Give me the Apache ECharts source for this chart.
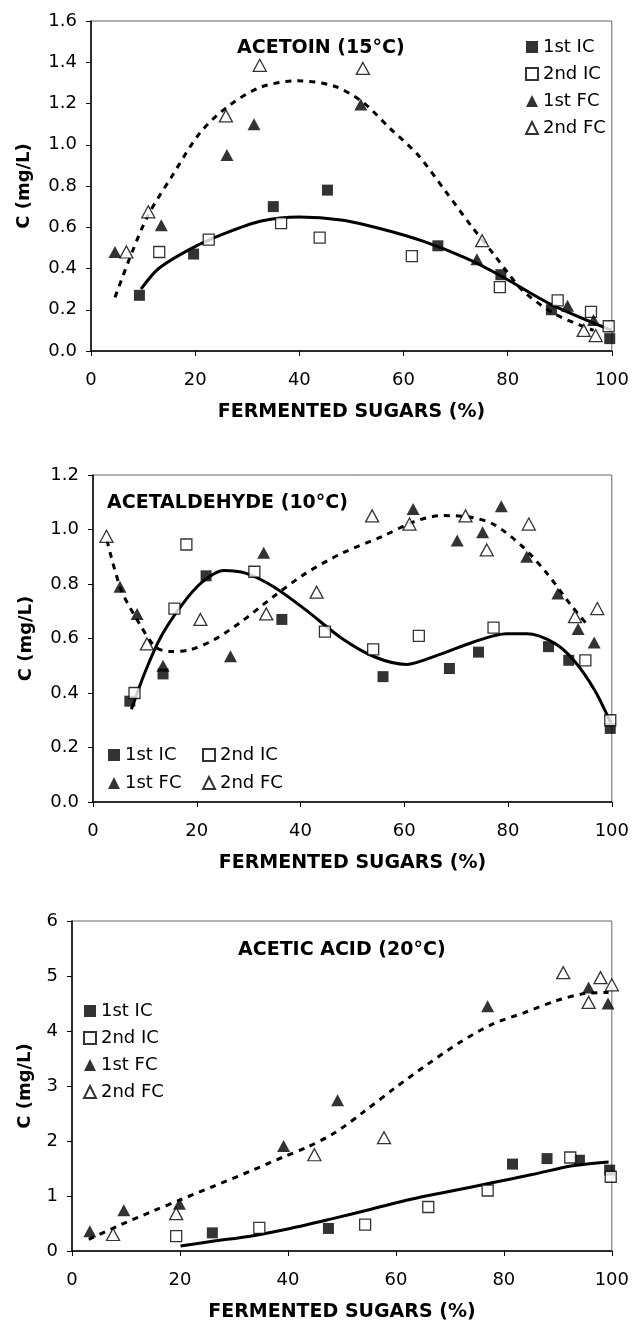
<!DOCTYPE html>
<html>
<head>
<meta charset="utf-8">
<title>Fermented sugars</title>
<script src="https://cdn.jsdelivr.net/npm/echarts@6/dist/echarts.min.js"></script>
<style>
  html, body { margin: 0; padding: 0; background: #fff; }
  #main { width: 632px; height: 1326px; }
</style>
</head>
<body>
<div id="main"></div>
<script>
// legend / series names
var seriesNames = ['1st IC', '2nd IC', '1st FC', '2nd FC'];
var panelTitles = ['ACETOIN (15°C)', 'ACETALDEHYDE (10°C)', 'ACETIC ACID (20°C)'];

// ---- ACETOIN (15 C) ---- points are [fermented sugars %, C mg/L]
var acetoinIC1 = [[9.3,0.27],[19.7,0.47],[35,0.70],[45.4,0.78],[66.6,0.51],[78.7,0.37],[88.4,0.20],[99.6,0.06]];
var acetoinIC2 = [[13.1,0.48],[22.6,0.54],[36.5,0.62],[43.9,0.55],[61.6,0.46],[78.5,0.31],[89.6,0.245],[96,0.19],[99.4,0.12]];
var acetoinFC1 = [[4.6,0.48],[13.5,0.61],[26.1,0.95],[31.3,1.10],[51.8,1.195],[74.1,0.445],[91.5,0.22],[96.5,0.15]];
var acetoinFC2 = [[6.8,0.48],[11,0.675],[25.9,1.14],[32.4,1.385],[52.2,1.37],[75.1,0.535],[94.6,0.10],[96.9,0.075]];
var acetoinICTrend = [[9.6,0.30],[13,0.40],[19.5,0.50],[25.7,0.57],[32.7,0.63],[40,0.65],[48,0.635],[56,0.59],[64,0.53],[72,0.45],[79,0.36],[88,0.23],[100,0.10]];
var acetoinFCTrend = [[4.6,0.26],[7.9,0.48],[11,0.66],[15.6,0.85],[21,1.06],[26.5,1.19],[32.7,1.28],[39.6,1.31],[46.6,1.285],[52,1.21],[57.4,1.08],[62.8,0.95],[68.2,0.77],[72.9,0.61],[77.6,0.46],[80,0.38],[83,0.29],[89,0.18],[96.5,0.10]];

// ---- ACETALDEHYDE (10 C) ----
var acetalIC1 = [[7.1,0.37],[13.5,0.47],[21.8,0.83],[36.4,0.67],[55.9,0.46],[68.7,0.49],[74.3,0.55],[87.8,0.57],[91.7,0.52],[99.7,0.27]];
var acetalIC2 = [[8,0.40],[15.7,0.71],[18,0.945],[31.1,0.845],[44.7,0.625],[54,0.56],[62.8,0.61],[77.2,0.64],[94.9,0.52],[99.7,0.30]];
var acetalFC1 = [[5.2,0.79],[8.5,0.69],[13.5,0.50],[26.5,0.535],[32.9,0.915],[61.7,1.075],[70.2,0.96],[75.1,0.99],[78.7,1.085],[83.6,0.90],[89.6,0.765],[93.5,0.635],[96.6,0.585]];
var acetalFC2 = [[2.6,0.975],[10.4,0.58],[20.7,0.67],[33.4,0.69],[43.1,0.77],[53.8,1.05],[61,1.02],[71.8,1.05],[75.9,0.925],[84,1.02],[92.9,0.68],[97.2,0.71]];
var acetalICTrend = [[7.4,0.34],[10.1,0.48],[13.2,0.61],[17,0.72],[20.9,0.805],[25.2,0.85],[29.4,0.84],[34.8,0.79],[41,0.705],[48,0.60],[54.2,0.533],[60.4,0.505],[66.6,0.54],[73.5,0.588],[79.7,0.617],[83.6,0.617],[89,0.582],[92.9,0.515],[96.7,0.41],[99.8,0.29]];
var acetalFCTrend = [[2.7,0.96],[5.4,0.78],[8.9,0.656],[12,0.57],[14.7,0.552],[18.6,0.558],[23.2,0.594],[28.6,0.662],[34.8,0.754],[41,0.839],[48,0.913],[55.7,0.974],[61.9,1.029],[67.3,1.051],[72.8,1.045],[77.4,1.017],[82.8,0.937],[87.5,0.839],[92.1,0.723],[95.6,0.643]];

// ---- ACETIC ACID (20 C) ----
var aceticIC1 = [[26,0.33],[47.5,0.41],[81.6,1.58],[88,1.68],[94,1.65],[99.6,1.47]];
var aceticIC2 = [[19.3,0.27],[34.7,0.42],[54.3,0.48],[66,0.80],[77,1.10],[92.3,1.70],[99.8,1.35]];
var aceticFC1 = [[3.3,0.36],[9.6,0.74],[19.9,0.86],[39.2,1.91],[49.2,2.74],[77,4.45],[95.7,4.79],[99.3,4.50]];
var aceticFC2 = [[7.6,0.30],[19.3,0.68],[44.9,1.75],[57.8,2.06],[91,5.06],[95.7,4.52],[97.9,4.97],[100,4.84]];
var aceticICTrend = [[20.1,0.09],[26.3,0.18],[33,0.27],[40.4,0.41],[47.9,0.58],[55.4,0.76],[62.8,0.94],[70.3,1.09],[77.8,1.24],[85.2,1.39],[92.7,1.55],[99.4,1.62]];
var aceticFCTrend = [[3.1,0.21],[9.1,0.48],[15.1,0.73],[20.3,0.94],[26.3,1.18],[33,1.45],[38.9,1.70],[43.4,1.88],[48.7,2.15],[53.9,2.52],[59.9,2.97],[65.8,3.39],[71.8,3.79],[77.8,4.12],[83.7,4.33],[89.7,4.55],[94.9,4.68],[99.4,4.70]];

// axis ranges
var xMax = 100, xStep = 20;
var yMaxes = [1.6, 1.2, 6];
var ySteps = [0.2, 0.2, 1];

var FONT = 'DejaVu Sans';

var chart = echarts.init(document.getElementById('main'));

function markerStyle(name) {
  var filled = name.indexOf('1st') === 0;
  var tri = name.indexOf('FC') > 0;
  return {
    symbol: tri ? 'triangle' : 'rect',
    symbolSize: tri ? [13, 12] : [11, 11],
    itemStyle: filled
      ? { color: '#000' }
      : { color: '#fff', borderColor: '#000', borderWidth: 1.3 }
  };
}

function panelSeries(idx, sets, icTrend, fcTrend) {
  var out = [];
  // trend lines first (drawn under markers)
  out.push({
    name: 'IC trend ' + idx, type: 'line', xAxisIndex: idx, yAxisIndex: idx,
    data: icTrend, smooth: 0.3, showSymbol: false, silent: true,
    lineStyle: { color: '#000', width: 3 }, z: 2
  });
  out.push({
    name: 'FC trend ' + idx, type: 'line', xAxisIndex: idx, yAxisIndex: idx,
    data: fcTrend, smooth: 0.3, showSymbol: false, silent: true,
    lineStyle: { color: '#000', width: 3, type: [6, 6] }, z: 2
  });
  for (var i = 0; i < seriesNames.length; i++) {
    var m = markerStyle(seriesNames[i]);
    out.push({
      name: seriesNames[i], type: 'scatter', xAxisIndex: idx, yAxisIndex: idx,
      data: sets[i], symbol: m.symbol, symbolSize: m.symbolSize,
      itemStyle: m.itemStyle, z: 3
    });
  }
  return out;
}

function xAxisFor(idx) {
  return {
    gridIndex: idx, type: 'value', min: 0, max: xMax, interval: xStep,
    name: 'FERMENTED SUGARS (%)', nameLocation: 'middle', nameGap: 52,
    nameTextStyle: { fontFamily: FONT, fontSize: 19, fontWeight: 'bold', color: '#000' },
    axisLine: { onZero: false, lineStyle: { color: '#000', width: 1.5 } },
    axisTick: { inside: false, length: 5, lineStyle: { color: '#000' } },
    axisLabel: { margin: 20, fontFamily: FONT, fontSize: 18, color: '#000' },
    splitLine: { show: false }
  };
}

function yAxisFor(idx, decimals) {
  return {
    gridIndex: idx, type: 'value', min: 0, max: yMaxes[idx], interval: ySteps[idx],
    name: 'C (mg/L)', nameLocation: 'middle', nameGap: decimals ? 58 : 38,
    nameTextStyle: { fontFamily: FONT, fontSize: 18, fontWeight: 'bold', color: '#000' },
    axisLine: { onZero: false, lineStyle: { color: '#000', width: 1.5 } },
    axisTick: { inside: false, length: 5, lineStyle: { color: '#000' } },
    axisLabel: {
      margin: 14, fontFamily: FONT, fontSize: 18, color: '#000',
      formatter: function (v) { return decimals ? v.toFixed(1) : String(v); }
    },
    splitLine: { show: false }
  };
}

var legendText = { fontFamily: FONT, fontSize: 18, color: '#000' };
var titleStyle = { fontFamily: FONT, fontSize: 19, fontWeight: 'bold', color: '#000' };

var option = {
  backgroundColor: '#fff',
  animation: false,
  title: [
    { text: panelTitles[0], left: 232, top: 34, textStyle: titleStyle },
    { text: panelTitles[1], left: 102, top: 489, textStyle: titleStyle },
    { text: panelTitles[2], left: 233, top: 936, textStyle: titleStyle }
  ],
  legend: [
    { data: seriesNames, orient: 'vertical', left: 520, top: 33, itemGap: 9,
      itemWidth: 12, itemHeight: 12, textStyle: legendText, selectedMode: false },
    { data: ['1st IC', '1st FC'], orient: 'vertical', left: 103, top: 741, itemGap: 10,
      itemWidth: 12, itemHeight: 12, textStyle: legendText, selectedMode: false },
    { data: ['2nd IC', '2nd FC'], orient: 'vertical', left: 197, top: 741, itemGap: 10,
      itemWidth: 12, itemHeight: 12, textStyle: legendText, selectedMode: false },
    { data: seriesNames, orient: 'vertical', left: 78, top: 997, itemGap: 9,
      itemWidth: 12, itemHeight: 12, textStyle: legendText, selectedMode: false }
  ],
  grid: [
    { left: 91, right: 19, top: 21, height: 330, show: true, borderColor: '#666', borderWidth: 1, backgroundColor: 'transparent' },
    { left: 93, right: 18, top: 475, height: 327, show: true, borderColor: '#666', borderWidth: 1, backgroundColor: 'transparent' },
    { left: 72, right: 18, top: 921, height: 330, show: true, borderColor: '#666', borderWidth: 1, backgroundColor: 'transparent' }
  ],
  xAxis: [xAxisFor(0), xAxisFor(1), xAxisFor(2)],
  yAxis: [yAxisFor(0, true), yAxisFor(1, true), yAxisFor(2, false)],
  series: []
    .concat(panelSeries(0, [acetoinIC1, acetoinIC2, acetoinFC1, acetoinFC2], acetoinICTrend, acetoinFCTrend))
    .concat(panelSeries(1, [acetalIC1, acetalIC2, acetalFC1, acetalFC2], acetalICTrend, acetalFCTrend))
    .concat(panelSeries(2, [aceticIC1, aceticIC2, aceticFC1, aceticFC2], aceticICTrend, aceticFCTrend))
};

chart.setOption(option);
window.addEventListener('resize', function () { chart.resize(); });
</script>
</body>
</html>
